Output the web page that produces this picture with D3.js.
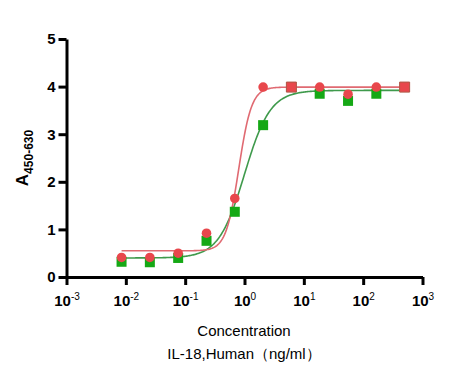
<!DOCTYPE html>
<meta charset="utf-8">
<style>
body { margin: 0; background: #fff; }
svg { font-family: "Liberation Sans", Arial, sans-serif; }
.axis path, .axis line { stroke: #000; stroke-width: 3px; }
.tick text { font-weight: bold; font-size: 15px; fill: #000; }
</style>
<svg width="473" height="385"></svg>
<script src="https://d3js.org/d3.v7.min.js"></script>
<script>

// concentrations, ng/ml (3-fold dilutions from 500)
var conc = [0.00847, 0.0254, 0.0762, 0.229, 0.686, 2.06, 6.17, 18.5, 55.6, 166.7, 500];
var redValues = [0.41, 0.41, 0.50, 0.92, 1.65, 3.99, 3.99, 3.99, 3.84, 3.99, 3.99];
var greenValues = [0.32, 0.31, 0.40, 0.76, 1.37, 3.19, 3.99, 3.85, 3.70, 3.85, 3.99];
// points where the top marker shows as a red square
var redSquareAt = [6.17, 500];
// 4PL fit: bottom, top, EC50, hill
var redFit = [0.55, 3.99, 0.80, 4.0];
var greenFit = [0.40, 3.92, 1.00, 2.0];
var xTicks = [-3, -2, -1, 0, 1, 2, 3];
var yTicks = [0, 1, 2, 3, 4, 5];

var svg = d3.select("svg");

var x = d3.scaleLog().domain([1e-3, 1e3]).range([66.5, 422.5]);
var y = d3.scaleLinear().domain([0, 5]).range([277, 39]);

var xAxis = svg.append("g")
    .attr("class", "axis")
    .attr("transform", "translate(0,277)")
    .call(d3.axisBottom(x).tickValues(xTicks.map(function(e) { return Math.pow(10, e); }))
      .tickSize(8).tickSizeOuter(0).tickFormat(""));

xAxis.selectAll(".tick").each(function(d, i) {
  var t = d3.select(this).append("text")
      .attr("y", 29)
      .attr("text-anchor", "middle");
  t.append("tspan").text("10");
  t.append("tspan").attr("dy", -6).attr("font-size", "10px").attr("font-weight", "normal").text(xTicks[i]);
});

svg.append("g")
    .attr("class", "axis")
    .attr("transform", "translate(66.5,0)")
    .call(d3.axisLeft(y).tickValues(yTicks).tickFormat(d3.format("d"))
      .tickSize(8).tickSizeOuter(0).tickPadding(3));

// y title
var yt = svg.append("text")
    .attr("transform", "translate(28,158) rotate(-90)")
    .attr("text-anchor", "middle")
    .attr("font-weight", "bold")
    .attr("font-size", "17px");
yt.append("tspan").text("A");
yt.append("tspan").attr("dy", 5).attr("font-size", "12px").text("450-630");

svg.append("text")
    .attr("x", 244).attr("y", 336)
    .attr("text-anchor", "middle")
    .attr("font-size", "15px")
    .text("Concentration");
svg.append("text")
    .attr("x", 244).attr("y", 359)
    .attr("text-anchor", "middle")
    .attr("font-size", "15px")
    .text("IL-18,Human（ng/ml）");

function fourPL(p) {
  var lo = Math.log10(conc[0]), hi = Math.log10(conc[conc.length - 1]);
  return d3.range(0, 301).map(function(i) {
    var c = Math.pow(10, lo + i / 300 * (hi - lo));
    return [c, p[0] + (p[1] - p[0]) / (1 + Math.pow(p[2] / c, p[3]))];
  });
}

var line = d3.line()
    .x(function(d) { return x(d[0]); })
    .y(function(d) { return y(d[1]); });

svg.append("path")
    .attr("d", line(fourPL(greenFit)))
    .attr("fill", "none")
    .attr("stroke", "#3f9a4c")
    .attr("stroke-width", 1.6);

svg.append("path")
    .attr("d", line(fourPL(redFit)))
    .attr("fill", "none")
    .attr("stroke", "#e06a72")
    .attr("stroke-width", 1.6);

svg.append("g")
  .selectAll("rect")
  .data(conc)
  .enter().append("rect")
    .attr("x", function(d) { return x(d) - 5; })
    .attr("y", function(d, i) { return y(greenValues[i]) - 5; })
    .attr("width", 10)
    .attr("height", 10)
    .attr("fill", "#15a815");

svg.append("g")
  .selectAll("path")
  .data(conc)
  .enter().append("path")
    .attr("transform", function(d, i) { return "translate(" + x(d) + "," + y(redValues[i]) + ")"; })
    .attr("d", function(d) {
      return redSquareAt.indexOf(d) >= 0 ? "M-5,-5h10v10h-10z" : d3.symbol(d3.symbolCircle, 72)();
    })
    .attr("fill", "#e8474c")
    .attr("stroke", function(d) { return redSquareAt.indexOf(d) >= 0 ? "#b5564a" : "none"; })
    .attr("stroke-width", 1);

</script>
